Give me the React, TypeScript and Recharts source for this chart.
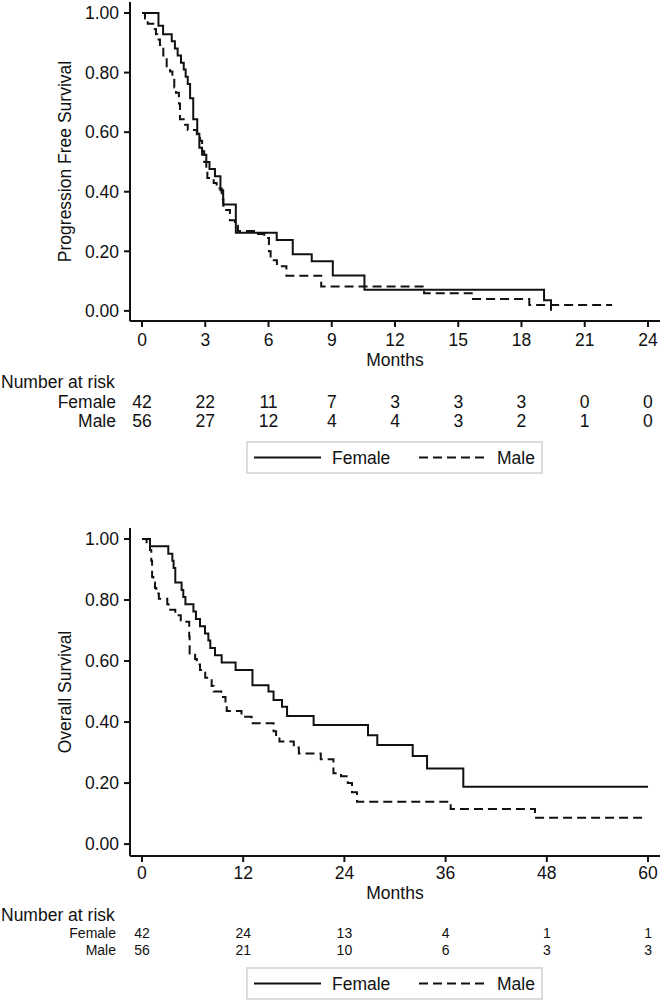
import React from 'react';
import { LineChart, Line, XAxis, YAxis, Legend } from 'recharts';

const FONT = "'Liberation Sans', Arial, Helvetica, sans-serif";
const INK = '#111111';

// Kaplan-Meier step estimates, [month, survival] at each drop
const pfsFemale: [number, number][] = [
  [0, 1], [0.78, 0.957], [1.0, 0.929], [1.41, 0.905], [1.56, 0.881], [1.69, 0.857],
  [1.85, 0.833], [1.98, 0.81], [2.07, 0.786], [2.17, 0.762], [2.28, 0.714], [2.43, 0.643],
  [2.62, 0.595], [2.72, 0.548], [2.85, 0.524], [3.05, 0.5], [3.2, 0.476], [3.46, 0.452],
  [3.72, 0.405], [3.85, 0.357], [4.45, 0.262], [6.39, 0.238], [7.15, 0.19], [8.05, 0.167],
  [9.05, 0.119], [10.55, 0.071], [19.07, 0.036], [19.4, 0],
];

const pfsMale: [number, number][] = [
  [0, 1], [0.14, 0.982], [0.27, 0.964], [0.6, 0.946], [0.66, 0.929], [0.72, 0.911],
  [0.85, 0.893], [1.01, 0.857], [1.17, 0.821], [1.33, 0.804], [1.44, 0.786], [1.53, 0.75],
  [1.61, 0.732], [1.75, 0.696], [1.8, 0.643], [2.04, 0.625], [2.17, 0.607], [2.6, 0.589],
  [2.75, 0.571], [2.85, 0.536], [2.95, 0.5], [3.05, 0.464], [3.1, 0.446], [3.4, 0.429],
  [3.54, 0.411], [3.78, 0.375], [3.86, 0.339], [4.17, 0.304], [4.41, 0.286], [4.55, 0.268],
  [5.45, 0.258], [5.8, 0.245], [6.02, 0.2], [6.1, 0.17], [6.4, 0.15], [6.85, 0.118],
  [8.5, 0.082], [13.38, 0.059], [15.7, 0.04], [18.37, 0.02], [22.3, 0.02],
];

const osFemale: [number, number][] = [
  [0, 1], [0.95, 0.976], [3.12, 0.952], [3.6, 0.929], [3.75, 0.905], [3.95, 0.857],
  [4.7, 0.833], [4.9, 0.81], [5.15, 0.786], [6.1, 0.762], [6.4, 0.738], [6.88, 0.714],
  [7.47, 0.69], [7.87, 0.667], [8.1, 0.643], [8.66, 0.619], [9.45, 0.595], [11.1, 0.571],
  [13.1, 0.521], [15.0, 0.5], [15.6, 0.472], [16.6, 0.45], [17.2, 0.42], [20.35, 0.39],
  [26.8, 0.357], [27.9, 0.325], [32.1, 0.289], [33.8, 0.248], [38.1, 0.188], [60, 0.188],
];

const osMale: [number, number][] = [
  [0, 1], [0.55, 0.982], [0.95, 0.964], [1.1, 0.929], [1.2, 0.875], [1.35, 0.857],
  [1.54, 0.839], [1.7, 0.821], [2.0, 0.804], [3.0, 0.786], [3.15, 0.768], [3.95, 0.75],
  [4.6, 0.729], [5.6, 0.68], [5.65, 0.625], [6.3, 0.607], [6.5, 0.589], [6.88, 0.571],
  [7.5, 0.545], [8.26, 0.518], [8.5, 0.5], [9.4, 0.482], [9.9, 0.464], [10.05, 0.436],
  [11.8, 0.417], [13.0, 0.396], [15.6, 0.37], [15.9, 0.354], [16.3, 0.336], [18.0, 0.317],
  [18.6, 0.297], [21.2, 0.278], [22.7, 0.232], [23.6, 0.222], [24.4, 0.2], [24.9, 0.17],
  [25.5, 0.139], [36.6, 0.115], [46.6, 0.086], [59.7, 0.086],
];

const pfsTicks = [0, 3, 6, 9, 12, 15, 18, 21, 24];
const osTicks = [0, 12, 24, 36, 48, 60];
const survTicks = [0, 0.2, 0.4, 0.6, 0.8, 1];

// number at risk under each month tick
const pfsRiskFemale = [42, 22, 11, 7, 3, 3, 3, 0, 0];
const pfsRiskMale = [56, 27, 12, 4, 4, 3, 2, 1, 0];
const osRiskFemale = [42, 24, 13, 4, 1, 1];
const osRiskMale = [56, 21, 10, 6, 3, 3];

const groups = ['Female', 'Male'];
const dashes: Record<string, string | undefined> = { Female: undefined, Male: '9 5' };

interface Rows {
  tick: number;
  title: number;
  risk: number;
  female: number;
  male: number;
}

interface PanelProps {
  top: number;
  height: number;
  plotTop: number;
  plotBottom: number;
  xDomain: [number, number];
  yDomain: [number, number];
  xTicks: number[];
  yLabel: string;
  female: [number, number][];
  male: [number, number][];
  riskFemale: number[];
  riskMale: number[];
  riskFont: number;
  rows: Rows; // baselines measured down from the x axis line
  legendTop: number;
}

const toRows = (pts: [number, number][]) => pts.map(([month, surv]) => ({ month, surv }));

const LegendBox = (props: any) => {
  const payload = (props.payload ?? []) as { value: string }[];
  const names = payload.length ? payload.map((p) => p.value) : groups;
  return (
    <svg width={297} height={33} style={{ display: 'block' }}>
      <rect x={1} y={1} width={295} height={31} fill="#fff" stroke="#dcdcdc" strokeWidth={2} />
      {names.map((name, i) => {
        const x0 = 8 + i * 165;
        return (
          <g key={name}>
            <line x1={x0} x2={x0 + 67} y1={16.5} y2={16.5} stroke={INK} strokeWidth={2} strokeDasharray={dashes[name]} />
            <text x={x0 + 78} y={22.7} fontSize={17.5} fontFamily={FONT} fill={INK}>{name}</text>
          </g>
        );
      })}
    </svg>
  );
};

const KMPanel: React.FC<PanelProps> = (p) => {
  const axisY = p.plotBottom;

  const xTick = (t: any) => {
    const i = p.xTicks.indexOf(t.payload.value);
    return (
      <g fontFamily={FONT} fill={INK} textAnchor="middle">
        <text x={t.x} y={axisY + p.rows.tick} fontSize={17.5}>{t.payload.value}</text>
        <text x={t.x} y={axisY + p.rows.female} fontSize={p.riskFont}>{p.riskFemale[i]}</text>
        <text x={t.x} y={axisY + p.rows.male} fontSize={p.riskFont}>{p.riskMale[i]}</text>
      </g>
    );
  };

  const xTitles = (l: any) => {
    const vb = l.viewBox ?? { x: 130, width: 530 };
    return (
      <g fontFamily={FONT} fill={INK}>
        <text x={vb.x + vb.width / 2} y={axisY + p.rows.title} fontSize={17.5} textAnchor="middle">Months</text>
        <text x={1} y={axisY + p.rows.risk} fontSize={17.5}>Number at risk</text>
        <text x={116} y={axisY + p.rows.female} fontSize={p.riskFont} textAnchor="end">{groups[0]}</text>
        <text x={116} y={axisY + p.rows.male} fontSize={p.riskFont} textAnchor="end">{groups[1]}</text>
      </g>
    );
  };

  const yTitle = (l: any) => {
    const vb = l.viewBox ?? { x: 0, y: p.plotTop, width: 130, height: p.plotBottom - p.plotTop };
    const cx = vb.x + vb.width / 2;
    const cy = vb.y + vb.height / 2;
    return (
      <text x={cx} y={cy} dy="0.355em" transform={`rotate(-90 ${cx} ${cy})`} textAnchor="middle"
        fontSize={17.5} fontFamily={FONT} fill={INK}>
        {p.yLabel}
      </text>
    );
  };

  return (
    <div style={{ position: 'absolute', left: 0, top: p.top }}>
      <LineChart width={661} height={p.height} margin={{ top: p.plotTop, right: 1, left: 0, bottom: 0 }}>
        <XAxis
          type="number"
          dataKey="month"
          domain={p.xDomain}
          ticks={p.xTicks}
          allowDataOverflow
          interval={0}
          height={p.height - p.plotBottom}
          tickSize={6}
          tickMargin={0}
          axisLine={{ stroke: INK, strokeWidth: 2 }}
          tickLine={{ stroke: INK, strokeWidth: 2 }}
          tick={xTick}
          label={{ content: xTitles }}
        />
        <YAxis
          type="number"
          domain={p.yDomain}
          ticks={survTicks}
          allowDataOverflow
          interval={0}
          width={130}
          tickSize={6}
          tickMargin={5}
          tickFormatter={(v: number) => v.toFixed(2)}
          tick={{ fontSize: 17.5, fill: INK, fontFamily: FONT }}
          axisLine={{ stroke: INK, strokeWidth: 2 }}
          tickLine={{ stroke: INK, strokeWidth: 2 }}
          label={{ content: yTitle }}
        />
        <Line data={toRows(p.female)} dataKey="surv" name={groups[0]} type="stepAfter" stroke={INK}
          strokeWidth={2} dot={false} activeDot={false} isAnimationActive={false} />
        <Line data={toRows(p.male)} dataKey="surv" name={groups[1]} type="stepAfter" stroke={INK}
          strokeWidth={2} strokeDasharray={dashes.Male} dot={false} activeDot={false} isAnimationActive={false} />
        <Legend
          layout="vertical"
          align="center"
          verticalAlign="middle"
          wrapperStyle={{ left: 246, top: p.legendTop, width: 297, height: 33 }}
          content={LegendBox}
        />
      </LineChart>
    </div>
  );
};

export default function App() {
  return (
    <div style={{ position: 'absolute', left: 0, top: 0, width: 661, height: 1003, background: '#fff' }}>
      <KMPanel
        top={0}
        height={480}
        plotTop={2}
        plotBottom={321}
        xDomain={[-0.57, 24.57]}
        yDomain={[-0.034, 1.037]}
        xTicks={pfsTicks}
        yLabel="Progression Free Survival"
        female={pfsFemale}
        male={pfsMale}
        riskFemale={pfsRiskFemale}
        riskMale={pfsRiskMale}
        riskFont={17.5}
        rows={{ tick: 24.5, title: 45, risk: 66.5, female: 86.5, male: 106 }}
        legendTop={441}
      />
      <KMPanel
        top={490}
        height={513}
        plotTop={38}
        plotBottom={366}
        xDomain={[-1.42, 61.42]}
        yDomain={[-0.039, 1.036]}
        xTicks={osTicks}
        yLabel="Overall Survival"
        female={osFemale}
        male={osMale}
        riskFemale={osRiskFemale}
        riskMale={osRiskMale}
        riskFont={14}
        rows={{ tick: 23, title: 43, risk: 65, female: 82, male: 99 }}
        legendTop={477}
      />
    </div>
  );
}
